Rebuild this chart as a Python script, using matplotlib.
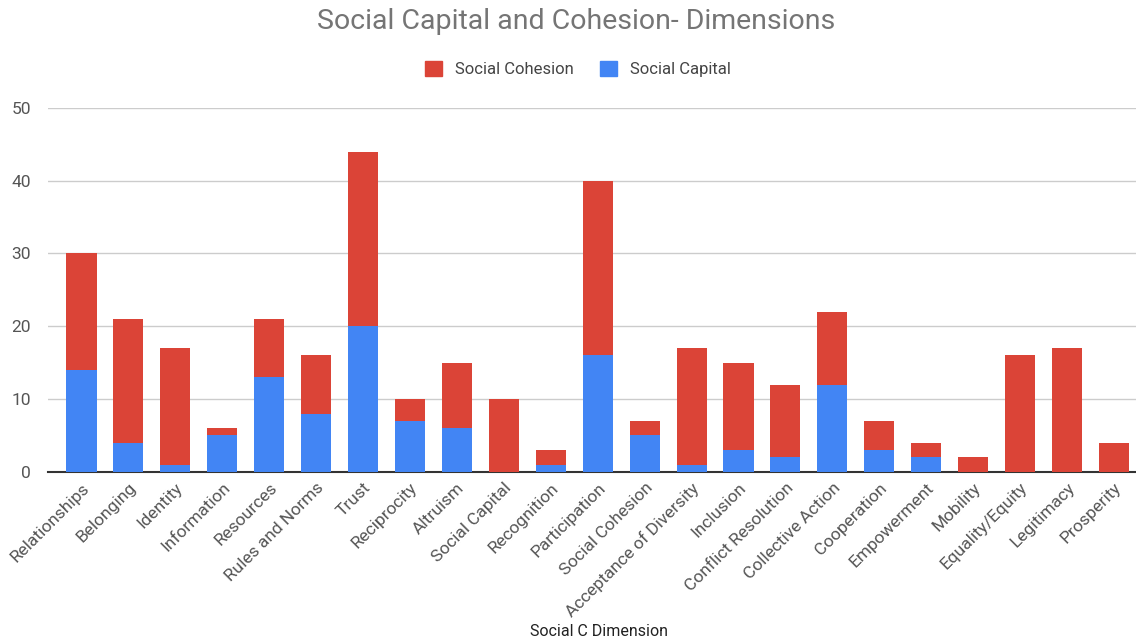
import matplotlib
matplotlib.use("Agg")
import matplotlib.pyplot as plt
from matplotlib.patches import Patch
import numpy as np

plt.rcParams['font.family'] = ['Roboto', 'DejaVu Sans']

categories = ['Relationships', 'Belonging', 'Identity', 'Information', 'Resources',
              'Rules and Norms', 'Trust', 'Reciprocity', 'Altruism', 'Social Capital',
              'Recognition', 'Participation', 'Social Cohesion', 'Acceptance of Diversity',
              'Inclusion', 'Conflict Resolution', 'Collective Action', 'Cooperation',
              'Empowerment', 'Mobility', 'Equality/Equity', 'Legitimacy', 'Prosperity']
social_capital = [14, 4, 1, 5, 13, 8, 20, 7, 6, 0, 1, 16, 5, 1, 3, 2, 12, 3, 2, 0, 0, 0, 0]
social_cohesion = [16, 17, 16, 1, 8, 8, 24, 3, 9, 10, 2, 24, 2, 16, 12, 10, 10, 4, 2, 2, 16, 17, 4]

BLUE = '#4285F4'
RED = '#DB4437'

fig = plt.figure(figsize=(11.36, 6.42), dpi=100)
ax = fig.add_axes([0.042, 0.265, 0.958, 0.567])

x = np.arange(len(categories))
ax.bar(x, social_capital, width=0.64, color=BLUE, zorder=3)
ax.bar(x, social_cohesion, width=0.64, bottom=social_capital, color=RED, zorder=3)

ax.set_xlim(-0.72, 22.47)
ax.set_ylim(0, 50)
ax.set_yticks([0, 10, 20, 30, 40, 50])
ax.yaxis.grid(True, color='#cccccc', linewidth=1, zorder=0)
for s in ['top', 'right', 'left']:
    ax.spines[s].set_visible(False)
ax.spines['bottom'].set_color('#333333')
ax.spines['bottom'].set_linewidth(1.5)
ax.tick_params(axis='both', length=0, labelsize=12.5, colors='#555555')
ax.tick_params(axis='y', pad=12)
ax.set_xticks(x)
ax.set_xticklabels(categories, rotation=45, ha='right', rotation_mode='anchor')
ax.tick_params(axis='x', pad=6)

fig.text(0.527, 0.016, 'Social C Dimension', ha='center', va='center',
         fontsize=11.5, color='#222222')

fig.text(0.507, 0.966, 'Social Capital and Cohesion- Dimensions', ha='center', va='center',
         fontsize=20.5, color='#757575')

handles = [Patch(color=RED, label='Social Cohesion'), Patch(color=BLUE, label='Social Capital')]
fig.legend(handles=handles, loc='center', bbox_to_anchor=(0.509, 0.893), ncol=2, frameon=False,
           fontsize=12, handlelength=1.0, handleheight=1.0, columnspacing=1.6,
           labelcolor='#444444')

fig.savefig('out.png', dpi=100)
